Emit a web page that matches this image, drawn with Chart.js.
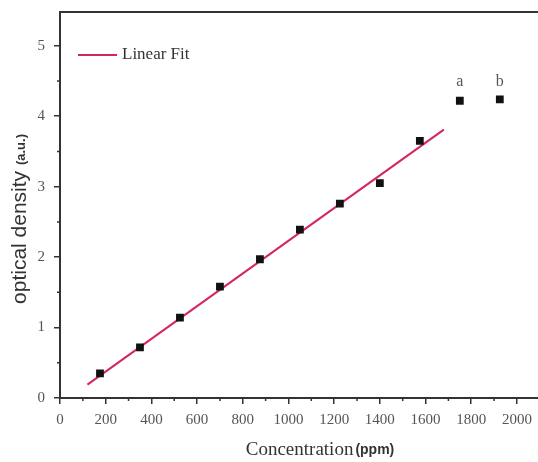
<!DOCTYPE html>
<html>
<head>
<meta charset="utf-8">
<script src="https://cdn.jsdelivr.net/npm/chart.js@4.4.1/dist/chart.umd.min.js"></script>
<style>
  html, body { margin: 0; padding: 0; background: #fff; overflow: hidden; }
  #od { display: block; }
</style>
</head>
<body>
<!-- a few px wider than the window so the open right side of the frame runs off the edge -->
<canvas id="od" width="543" height="462"></canvas>
<script>
// measured samples
const concentration = [175, 350, 525, 700, 875, 1050, 1225, 1400, 1575, 1750, 1925]
const density = [0.35, 0.72, 1.14, 1.58, 1.97, 2.39, 2.76, 3.05, 3.65, 4.22, 4.24]

// linear fit over the first nine samples, drawn between its two end points
const fitX = [120, 1680]
const fitY = [0.19, 3.81]

// letters over the saturated points
const noteText = ['a', 'b']
const noteX = [1750, 1925]

const xTicks = [0, 200, 400, 600, 800, 1000, 1200, 1400, 1600, 1800, 2000]
const yTicks = [0, 1, 2, 3, 4, 5]

const fitColor = '#d3265f'
const axisColor = '#333'
const serif = '"Liberation Serif", "Times New Roman", serif'
const sans = '"Liberation Sans", Arial, sans-serif'

const noPadding = () => ({ left: 0, top: 0, right: 0, bottom: 0 })

const extras = {
  id: 'extras',
  afterDraw(chart) {
    const { ctx, chartArea, scales } = chart
    const x = scales.x, y = scales.y
    ctx.save()

    // top frame line
    ctx.strokeStyle = axisColor
    ctx.lineWidth = 2
    ctx.beginPath()
    ctx.moveTo(chartArea.left - 1, chartArea.top)
    ctx.lineTo(chart.width, chartArea.top)
    ctx.stroke()

    // minor ticks
    ctx.lineWidth = 1.5
    ctx.beginPath()
    for (let v = 100; v < 2090; v += 200) {
      const px = x.getPixelForValue(v)
      ctx.moveTo(px, chartArea.bottom)
      ctx.lineTo(px, chartArea.bottom + 3)
    }
    for (let v = 0.5; v < 5.48; v += 1) {
      const py = y.getPixelForValue(v)
      ctx.moveTo(chartArea.left, py)
      ctx.lineTo(chartArea.left - 3, py)
    }
    ctx.stroke()

    // legend
    ctx.strokeStyle = fitColor
    ctx.lineWidth = 2
    ctx.beginPath()
    ctx.moveTo(78, 55)
    ctx.lineTo(117, 55)
    ctx.stroke()
    ctx.fillStyle = '#333'
    ctx.font = '17px ' + serif
    ctx.textAlign = 'left'
    ctx.textBaseline = 'middle'
    ctx.fillText('Linear Fit', 122, 55)

    // a / b notes
    ctx.font = '16px ' + serif
    ctx.fillStyle = '#555'
    ctx.textAlign = 'center'
    ctx.textBaseline = 'alphabetic'
    noteText.forEach((t, i) => {
      ctx.fillText(t, x.getPixelForValue(noteX[i]), 86)
    })

    // x title: serif word plus bold sans unit
    const xWord = 'Concentration'
    const xUnit = '(ppm)'
    ctx.font = '19px ' + serif
    const w1 = ctx.measureText(xWord).width
    ctx.font = 'bold 14px ' + sans
    const w2 = ctx.measureText(xUnit).width
    let sx = 320 - (w1 + 2 + w2) / 2
    ctx.textAlign = 'left'
    ctx.fillStyle = '#333'
    ctx.font = '19px ' + serif
    ctx.fillText(xWord, sx, 455)
    ctx.font = 'bold 14px ' + sans
    ctx.fillText(xUnit, sx + w1 + 2, 454)

    // y title, rotated
    const yWord = 'optical density '
    const yUnit = '(a.u.)'
    ctx.translate(26, 219)
    ctx.rotate(-Math.PI / 2)
    ctx.font = '21px ' + sans
    const h1 = ctx.measureText(yWord).width
    ctx.font = 'bold 13px ' + sans
    const h2 = ctx.measureText(yUnit).width
    sx = -(h1 + h2) / 2
    ctx.font = '21px ' + sans
    ctx.fillText(yWord, sx, 0)
    ctx.font = 'bold 13px ' + sans
    ctx.fillText(yUnit, sx + h1, -1)

    ctx.restore()
  }
}

new Chart(document.querySelector('#od'), {
  type: 'scatter',
  plugins: [extras],
  data: {
    datasets: [{
      label: 'Data',
      data: concentration.map((c, i) => ({ x: c, y: density[i] })),
      pointStyle: 'rect',
      pointRadius: 5.5,
      backgroundColor: '#111',
      borderColor: '#111',
      borderWidth: 0,
      order: 0
    }, {
      label: 'Linear Fit',
      data: fitX.map((c, i) => ({ x: c, y: fitY[i] })),
      showLine: true,
      pointRadius: 0,
      borderColor: fitColor,
      borderWidth: 2,
      order: 1
    }]
  },
  options: {
    responsive: false,
    animation: false,
    layout: { padding: { top: 12, right: 0, left: 0, bottom: 0 } },
    plugins: {
      legend: { display: false },
      tooltip: { enabled: false }
    },
    scales: {
      x: {
        type: 'linear',
        min: 0,
        max: 2090,
        afterFit: (s) => { s.height = 64; s.getPadding = noPadding },
        afterBuildTicks: (s) => { s.ticks = xTicks.map(v => ({ value: v })) },
        border: { display: true, width: 2, color: axisColor },
        grid: {
          drawOnChartArea: false,
          drawTicks: true,
          tickLength: 6,
          tickColor: axisColor,
          lineWidth: 1.5
        },
        ticks: {
          padding: 7,
          color: '#555',
          maxRotation: 0,
          font: { family: serif, size: 15 },
          callback: (v) => String(v)
        }
      },
      y: {
        min: 0,
        max: 5.48,
        afterFit: (s) => { s.width = 60; s.getPadding = noPadding },
        afterBuildTicks: (s) => { s.ticks = yTicks.map(v => ({ value: v })) },
        border: { display: true, width: 2, color: axisColor },
        grid: {
          drawOnChartArea: false,
          drawTicks: true,
          tickLength: 6,
          tickColor: axisColor,
          lineWidth: 1.5
        },
        ticks: {
          padding: 9,
          color: '#555',
          font: { family: serif, size: 15 },
          callback: (v) => String(v)
        }
      }
    }
  }
})
</script>
</body>
</html>
